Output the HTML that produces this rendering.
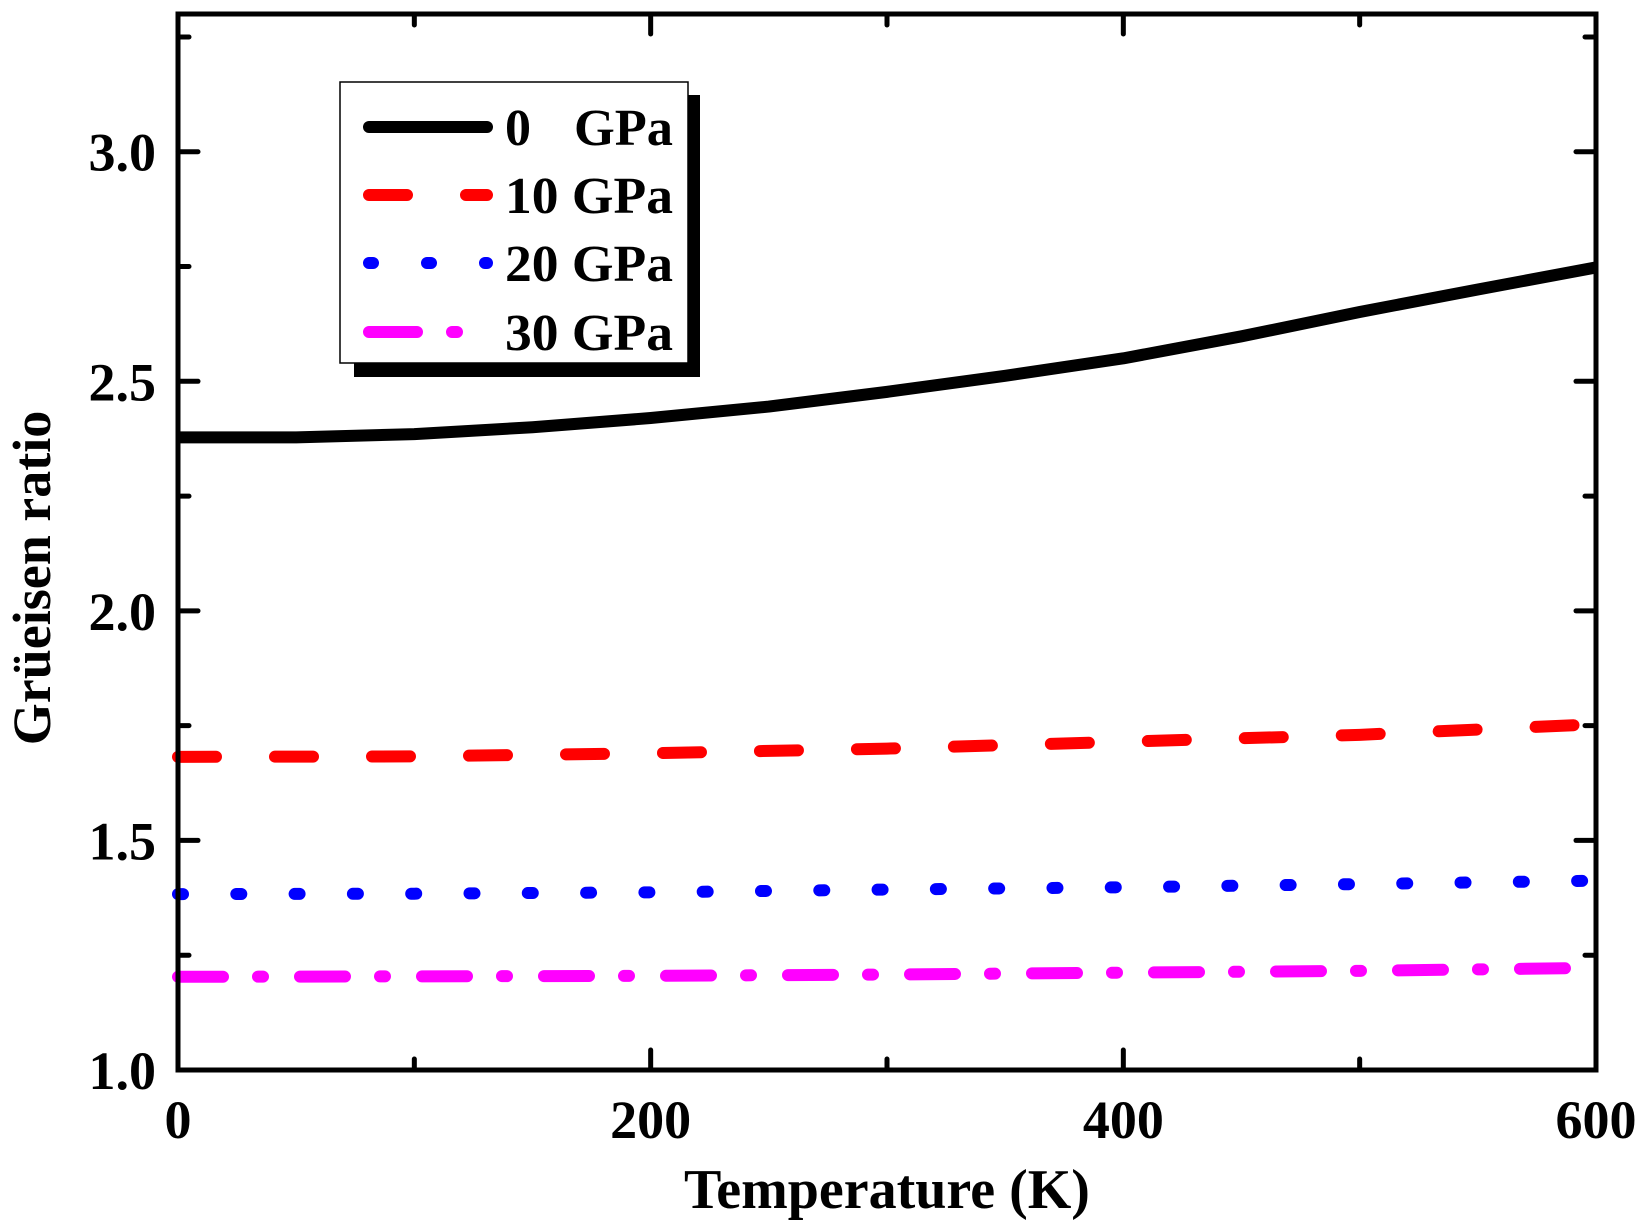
<!DOCTYPE html>
<html><head><meta charset="utf-8"><style>
html,body{margin:0;padding:0;background:#fff;width:1647px;height:1232px;overflow:hidden}
text{font-family:"Liberation Serif",serif;font-weight:bold;fill:#000}
</style></head><body>
<svg id="chart" width="1647" height="1232" viewBox="0 0 1647 1232" xmlns="http://www.w3.org/2000/svg">
<g id="marks"></g>
<g id="axes"></g>
<g id="legend"></g>
</svg>
<script>
const xTicks = [0, 200, 400, 600];
const xMinor = [100, 300, 500];
const yTicks = [1.0, 1.5, 2.0, 2.5, 3.0];
const yMinor = [1.25, 1.75, 2.25, 2.75, 3.25];
const yTickLabels = ["1.0", "1.5", "2.0", "2.5", "3.0"];
const seriesNames = ["0", "10 GPa", "20 GPa", "30 GPa"];
const t0 = [0, 50, 100, 150, 200, 250, 300, 350, 400, 450, 500, 550, 600];
const g0 = [2.378, 2.378, 2.385, 2.40, 2.42, 2.445, 2.477, 2.512, 2.55, 2.598, 2.651, 2.70, 2.748];
const tP = [0, 100, 200, 300, 400, 500, 595];
const g10 = [1.682, 1.683, 1.69, 1.70, 1.715, 1.73, 1.752];
const g20 = [1.383, 1.384, 1.387, 1.393, 1.398, 1.405, 1.412];
const g30 = [1.203, 1.204, 1.205, 1.208, 1.212, 1.216, 1.222];

const L = 178, R = 1596, T = 14, B = 1070;
const xMin = 0, xMax = 600, yMin = 1.0, yMax = 3.3;
function xs(v){ return L + (v - xMin) / (xMax - xMin) * (R - L); }
function ys(v){ return B - (v - yMin) / (yMax - yMin) * (B - T); }
const NS = "http://www.w3.org/2000/svg";
function mk(tag, attrs, parent){
  const e = document.createElementNS(NS, tag);
  for (const k in attrs) e.setAttribute(k, attrs[k]);
  parent.appendChild(e); return e;
}
const marks = document.getElementById('marks');
const axes = document.getElementById('axes');
const legend = document.getElementById('legend');

const styles = [
  {color:"#000000", dash:"none"},
  {color:"#ff0000", dash:"38 59"},
  {color:"#0000ff", dash:"5 53.3"},
  {color:"#ff00ff", dash:"45 35 5 37"}
];
const sx = [t0, tP, tP, tP];
const sy = [g0, g10, g20, g30];
const sNames = ["series-0gpa", "series-10gpa", "series-20gpa", "series-30gpa"];
for (let i = 0; i < 4; i++) {
  let d = "";
  sx[i].forEach((x, j) => { d += (j ? "L" : "M") + xs(x).toFixed(2) + "," + ys(sy[i][j]).toFixed(2); });
  const p = mk('path', {d: d, fill: "none", stroke: styles[i].color, "stroke-width": 12, "stroke-linecap": "round", "stroke-linejoin": "round", "stroke-dasharray": styles[i].dash}, marks);
  if (i === 0) { p.setAttribute('stroke-linecap', 'butt'); }
  
  
}

const frame = mk('rect', {x: L, y: T, width: R - L, height: B - T, fill: "none", stroke: "#000", "stroke-width": 5}, axes);



xTicks.forEach(v => {
  const x = xs(v);
  const t1 = mk('line', {x1: x, y1: B, x2: x, y2: B - 20, stroke: "#000", "stroke-width": 5, "stroke-linecap": "round"}, axes);
  
  
  const t2 = mk('line', {x1: x, y1: T, x2: x, y2: T + 20, stroke: "#000", "stroke-width": 5, "stroke-linecap": "round"}, axes);
  
  
  const lb = mk('text', {x: x, y: 1138, "text-anchor": "middle", "font-size": 54}, axes);
  lb.textContent = String(v);
  
  
});
xMinor.forEach(v => {
  const x = xs(v);
  const a = mk('line', {x1: x, y1: B, x2: x, y2: B - 11, stroke: "#000", "stroke-width": 5, "stroke-linecap": "round"}, axes);
  
  
  const b = mk('line', {x1: x, y1: T, x2: x, y2: T + 11, stroke: "#000", "stroke-width": 5, "stroke-linecap": "round"}, axes);
  
  
});
yTicks.forEach((v, i) => {
  const y = ys(v);
  const a = mk('line', {x1: L, y1: y, x2: L + 20, y2: y, stroke: "#000", "stroke-width": 5, "stroke-linecap": "round"}, axes);
  
  
  const b = mk('line', {x1: R, y1: y, x2: R - 20, y2: y, stroke: "#000", "stroke-width": 5, "stroke-linecap": "round"}, axes);
  
  
  const lb = mk('text', {x: 156, y: y + 19, "text-anchor": "end", "font-size": 54}, axes);
  lb.textContent = yTickLabels[i];
  
  
});
yMinor.forEach(v => {
  const y = ys(v);
  const a = mk('line', {x1: L, y1: y, x2: L + 11, y2: y, stroke: "#000", "stroke-width": 5, "stroke-linecap": "round"}, axes);
  
  
  const b = mk('line', {x1: R, y1: y, x2: R - 11, y2: y, stroke: "#000", "stroke-width": 5, "stroke-linecap": "round"}, axes);
  
  
});
const xt = mk('text', {x: 887, y: 1208, "text-anchor": "middle", "font-size": 56}, axes);
xt.textContent = "Temperature (K)";


const yt = mk('text', {x: 0, y: 0, "text-anchor": "middle", "font-size": 54, transform: "translate(50,578) rotate(-90)"}, axes);
yt.textContent = "Grüeisen ratio";



const sh = mk('rect', {x: 354, y: 95, width: 346, height: 282, fill: "#000"}, legend);


const box = mk('rect', {x: 340, y: 82, width: 348, height: 281, fill: "#fff", stroke: "#000", "stroke-width": 1.5}, legend);


const rowY = [127, 195, 263, 332];
const legDash = ["none", "38 59", "4 54", "48 35 5 40"];
for (let i = 0; i < 4; i++) {
  const ln = mk('line', {x1: 369, y1: rowY[i], x2: 487, y2: rowY[i], stroke: styles[i].color, "stroke-width": 12, "stroke-linecap": "round", "stroke-dasharray": legDash[i]}, legend);
  
  
  const tx = mk('text', {x: 505, y: rowY[i] + 18, "font-size": 52}, legend);
  tx.textContent = seriesNames[i];
  if (i > 0) {
    tx.setAttribute('textLength', 168);
    tx.setAttribute('lengthAdjust', 'spacingAndGlyphs');
  }
  
  
}
const gpa0 = mk('text', {x: 574, y: rowY[0] + 18, "font-size": 52, textLength: 99, lengthAdjust: "spacingAndGlyphs"}, legend);
gpa0.textContent = "GPa";


</script>
</body></html>
